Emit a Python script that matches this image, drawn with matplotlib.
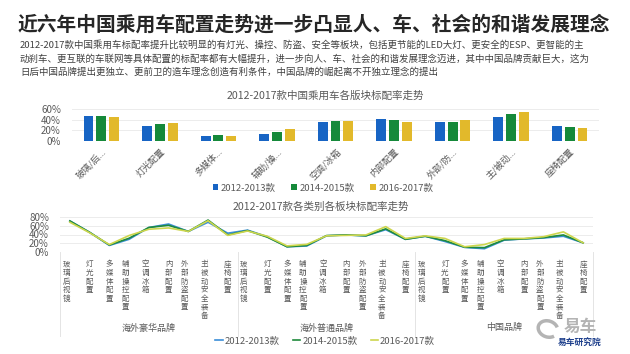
import numpy as np
import matplotlib
matplotlib.use("Agg")
import matplotlib.pyplot as plt
import matplotlib.transforms as mtransforms
from matplotlib.patches import Arc

plt.rcParams['font.family'] = ['Noto Sans CJK SC', 'DejaVu Sans']

title = "近六年中国乘用车配置走势进一步凸显人、车、社会的和谐发展理念"
subtitle = ("2012-2017款中国乘用车标配率提升比较明显的有灯光、操控、防盗、安全等板块，包括更节能的LED大灯、更安全的ESP、更智能的主\n"
            "动刹车、更互联的车联网等具体配置的标配率都有大幅提升，进一步向人、车、社会的和谐发展理念迈进，其中中国品牌贡献巨大，这为\n"
            "日后中国品牌提出更独立、更前卫的造车理念创造有利条件，中国品牌的崛起离不开独立理念的提出")

series = ['2012-2013款', '2014-2015款', '2016-2017款']

# top chart: overall standard-fit rate per block
bar_cats = ['玻璃/后...', '灯光配置', '多媒体...', '辅助/操...', '空调/冰箱',
            '内部配置', '外部/防...', '主/被动...', '座椅配置']
bar_1213 = [0.47, 0.275, 0.095, 0.13, 0.35, 0.41, 0.35, 0.455, 0.28]
bar_1415 = [0.47, 0.32, 0.11, 0.17, 0.37, 0.39, 0.355, 0.505, 0.26]
bar_1617 = [0.45, 0.34, 0.095, 0.22, 0.375, 0.35, 0.39, 0.54, 0.24]

# bottom chart: per brand type
items = ['玻璃_后视镜', '灯光配置', '多媒体配置', '辅助_操控配置', '空调_冰箱',
         '内部配置', '外部_防盗配置', '主_被动安全装备', '座椅配置']
groups = ['海外豪华品牌', '海外普通品牌', '中国品牌']
line_1213 = [0.71, 0.45, 0.15, 0.29, 0.56, 0.64, 0.47, 0.68, 0.43,
             0.50, 0.35, 0.12, 0.137, 0.37, 0.39, 0.37, 0.51, 0.29,
             0.36, 0.24, 0.105, 0.075, 0.27, 0.30, 0.32, 0.36, 0.21]
line_1415 = [0.71, 0.45, 0.16, 0.315, 0.56, 0.61, 0.47, 0.73, 0.39,
             0.49, 0.34, 0.12, 0.15, 0.375, 0.39, 0.37, 0.53, 0.29,
             0.36, 0.26, 0.11, 0.10, 0.28, 0.30, 0.33, 0.39, 0.21]
line_1617 = [0.68, 0.44, 0.17, 0.377, 0.52, 0.55, 0.47, 0.715, 0.38,
             0.48, 0.36, 0.14, 0.175, 0.37, 0.38, 0.39, 0.58, 0.31,
             0.37, 0.31, 0.12, 0.17, 0.31, 0.31, 0.35, 0.46, 0.21]

bar_colors = ['#1764c4', '#15893a', '#e2b92b']
line_colors = ['#3b8ed8', '#1f8a3c', '#cdd64e']
txt_gray = '#595959'
grid_c = '#ececec'

fig = plt.figure(figsize=(6.3, 3.54), dpi=100)
W, H = 630, 354

def px_axes(l, t, r, b):
    return fig.add_axes([l / W, 1 - b / H, (r - l) / W, (b - t) / H])

fig.text(18 / W, 1 - 25 / H, title, fontsize=14.2, fontweight='bold',
         color='#262626', va='center', ha='left')
fig.text(20 / W, 1 - 40 / H, subtitle, fontsize=6.8, color='#404040',
         va='top', ha='left', linespacing=1.55)

# ---- bar chart
ax1 = px_axes(72, 109, 599, 141)
x = np.arange(len(bar_cats))
off = 0.218
bw = 0.17
for k, (vals, c) in enumerate(zip([bar_1213, bar_1415, bar_1617], bar_colors)):
    ax1.bar(x + (k - 1) * off, vals, bw, color=c, label=series[k], zorder=3)
ax1.set_xlim(-0.5, len(bar_cats) - 0.5)
ax1.set_ylim(0, 0.6)
ax1.set_yticks([0, 0.2, 0.4, 0.6])
ax1.set_yticklabels(['0%', '20%', '40%', '60%'])
ax1.yaxis.grid(True, color=grid_c, lw=0.7, zorder=0)
ax1.set_xticks(x)
ax1.set_xticklabels(bar_cats, rotation=45, ha='right', rotation_mode='anchor')
ax1.tick_params(axis='x', length=0, labelsize=6.5, labelcolor=txt_gray, pad=4)
ax1.tick_params(axis='y', length=0, labelsize=7, labelcolor=txt_gray, pad=8)
for s in ax1.spines.values():
    s.set_visible(False)
ax1.set_title('2012-2017款中国乘用车各版块标配率走势', fontsize=7.6,
              color=txt_gray, pad=7, x=0.48)
fig.legend(*ax1.get_legend_handles_labels(), loc='center',
           bbox_to_anchor=(323 / W, 1 - 188 / H), ncol=3, frameon=False,
           fontsize=6.8, handlelength=0.6, handleheight=0.6,
           handletextpad=0.3, columnspacing=1.6, labelcolor=txt_gray)

# ---- line chart
ax2 = px_axes(60, 217, 593, 252)
xl = np.arange(len(items) * len(groups)) + 0.5
for k, (vals, c) in enumerate(zip([line_1213, line_1415, line_1617], line_colors)):
    ax2.plot(xl, vals, color=c, lw=1.2, label=series[k], zorder=3)
ax2.set_xlim(0, len(xl))
ax2.set_ylim(0, 0.8)
ax2.set_yticks([0, 0.2, 0.4, 0.6, 0.8])
ax2.set_yticklabels(['0%', '20%', '40%', '60%', '80%'])
ax2.yaxis.grid(True, color=grid_c, lw=0.7, zorder=0)


def vert(s):
    parts = s.split('_')
    lines = []
    for i, p in enumerate(parts):
        chars = list(p)
        if i < len(parts) - 1:
            chars[-1] = chars[-1] + '︳'
        lines.extend(chars)
    return '\n'.join(lines)


ax2.set_xticks(xl)
ax2.set_xticklabels([vert(s) for s in items * len(groups)], va='top')
for t in ax2.get_xticklabels():
    t.set_multialignment('left')
    t.set_linespacing(1.1)
ax2.tick_params(axis='x', length=0, labelsize=5.4, labelcolor=txt_gray, pad=6)
ax2.tick_params(axis='y', length=0, labelsize=7, labelcolor=txt_gray, pad=8)
for s in ax2.spines.values():
    s.set_visible(False)
ax2.set_title('2012-2017款各类别各板块标配率走势', fontsize=7.6,
              color=txt_gray, pad=5, x=0.49)

tr = mtransforms.blended_transform_factory(ax2.transData, ax2.transAxes)
for gi, g in enumerate(groups):
    ax2.text(gi * len(items) + len(items) / 2, -2.17, g, transform=tr,
             ha='center', va='center', fontsize=6.5, color=txt_gray)
for b in range(len(groups) + 1):
    ax2.plot([b * len(items)] * 2, [0, -2.4], transform=tr, color='#e4e4e4',
             lw=0.7, clip_on=False)

fig.legend(*ax2.get_legend_handles_labels(), loc='center',
           bbox_to_anchor=(325 / W, 1 - 341 / H), ncol=3, frameon=False,
           fontsize=6.8, handlelength=0.8, handletextpad=0.2,
           columnspacing=1.4, labelcolor=txt_gray)

# logo
fig.add_artist(Arc((548 / 100, (H - 329) / 100), 0.2, 0.16, angle=-20,
                   theta1=30, theta2=330, transform=fig.dpi_scale_trans,
                   color='#b4b4b4', lw=2.5))
fig.text(580 / W, 1 - 327 / H, '易车', fontsize=12, fontweight='bold',
         color='#b4b4b4', ha='center', va='center')
fig.text(580 / W, 1 - 343 / H, '易车研究院', fontsize=6.3, fontweight='bold',
         color='#1d3f8c', ha='center', va='center')

fig.savefig('out.png', dpi=100)
